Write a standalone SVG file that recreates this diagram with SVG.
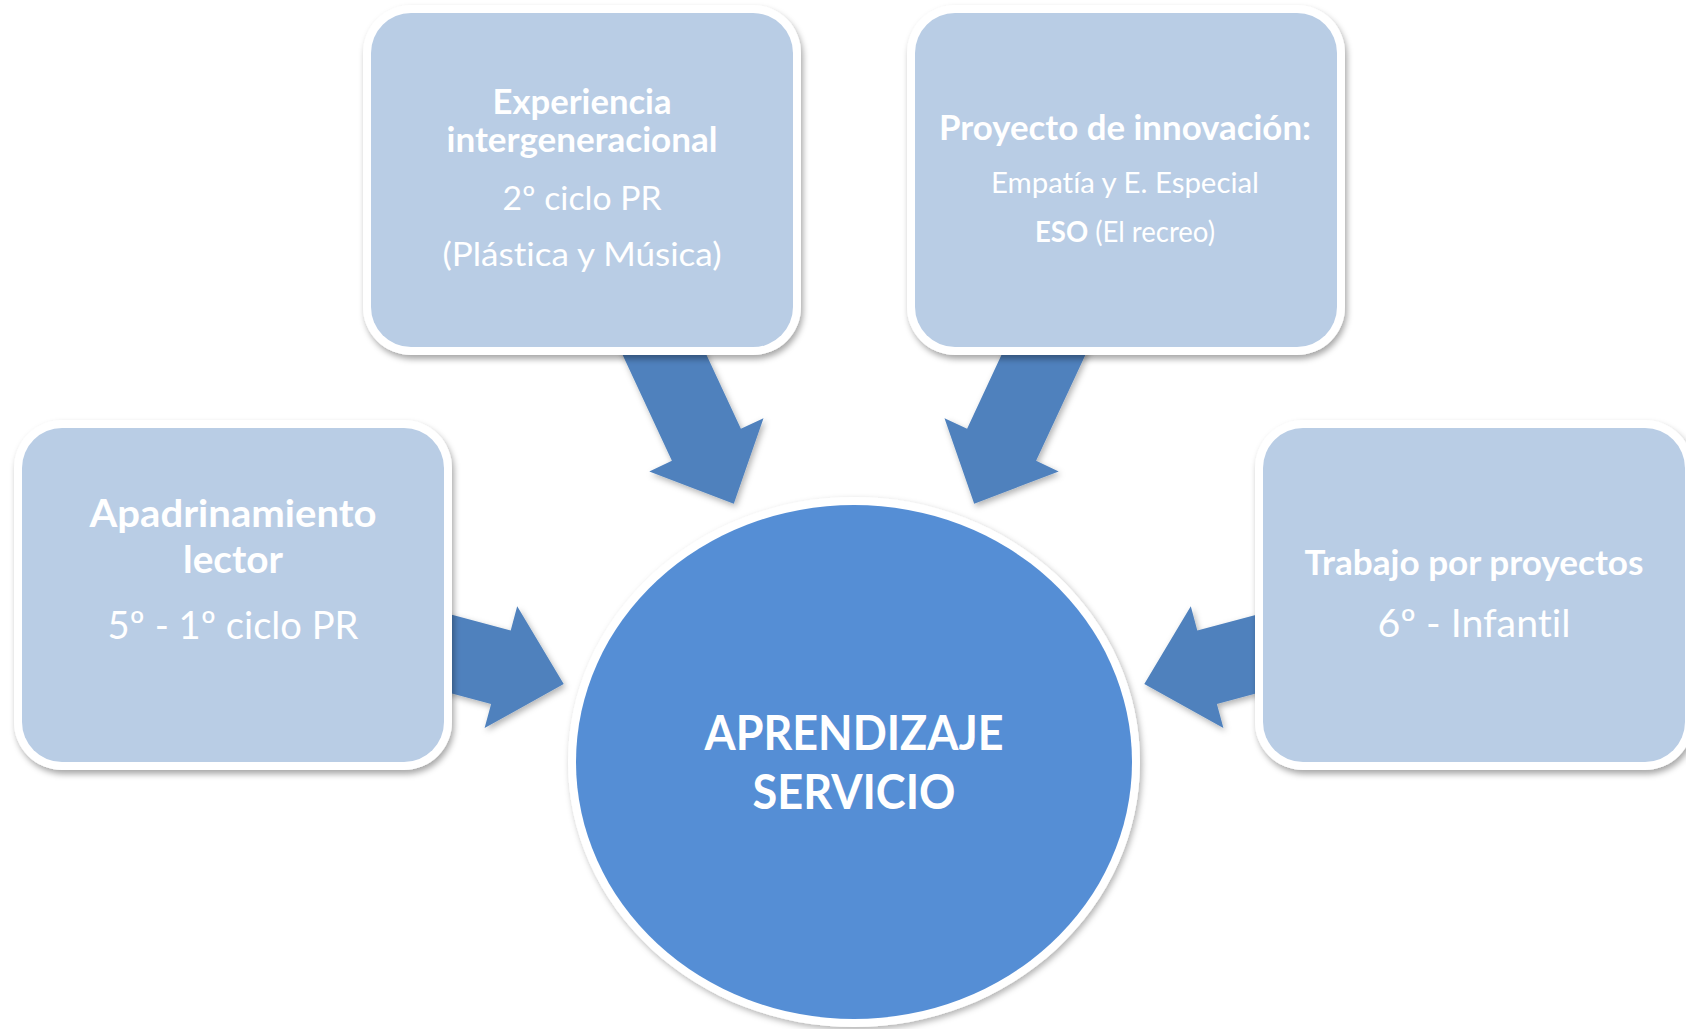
<svg xmlns="http://www.w3.org/2000/svg" width="1686" height="1029" viewBox="0 0 1686 1029">
  <defs>
    <filter id="shadow" x="-10%" y="-10%" width="120%" height="125%">
      <feDropShadow dx="2" dy="4" stdDeviation="3" flood-color="#000000" flood-opacity="0.35"/>
    </filter>
    <filter id="ashadow" x="-10%" y="-10%" width="130%" height="130%">
      <feDropShadow dx="2" dy="3" stdDeviation="3" flood-color="#000000" flood-opacity="0.3"/>
    </filter>
    <style>
      .frame { fill: #ffffff; filter: url(#shadow); }
      .box { fill: #B9CDE5; }
      .arrow { fill: #4F81BD; filter: url(#ashadow); }
      .hub { fill: #558ED5; }
      text { font-family: Lato, "Open Sans", "Liberation Sans", sans-serif; fill: #ffffff; text-anchor: middle; font-variant-ligatures: none; }
      .b { font-weight: bold; }
    </style>
  </defs>
  <rect width="1686" height="1029" fill="#ffffff"/>

  <g id="connectors">
    <polygon class="arrow" points="674.2,285.6 740.9,428.8 763.5,418.2 733.8,503.8 649.3,471.4 671.9,460.8 605.2,317.6"/>
    <polygon class="arrow" points="1033.8,285.6 967.1,428.8 944.5,418.2 974.2,503.8 1058.7,471.4 1036.1,460.8 1102.8,317.6"/>
    <polygon class="arrow" points="403.4,601.8 510.7,630.5 517.2,606.3 563.7,684.0 484.6,728.1 491.1,703.9 383.8,675.2"/>
    <polygon class="arrow" points="1304.6,601.8 1197.3,630.5 1190.8,606.3 1144.3,684.0 1223.4,728.1 1216.9,703.9 1324.2,675.2"/>
  </g>

  <g id="node-experiencia">
    <rect class="frame" x="363" y="5" width="438" height="350" rx="48"/>
    <rect class="box" x="371" y="13" width="422" height="334" rx="40"/>
    <text class="b" x="582" y="114" font-size="33.5" textLength="179" lengthAdjust="spacingAndGlyphs">Experiencia</text>
    <text class="b" x="582" y="152" font-size="33.5" textLength="271" lengthAdjust="spacingAndGlyphs">intergeneracional</text>
    <text x="582" y="210" font-size="33.5" textLength="159" lengthAdjust="spacingAndGlyphs">2º ciclo PR</text>
    <text x="582" y="266" font-size="33.5" textLength="279" lengthAdjust="spacingAndGlyphs">(Plástica y Música)</text>
  </g>

  <g id="node-proyecto">
    <rect class="frame" x="907" y="5" width="438" height="350" rx="48"/>
    <rect class="box" x="915" y="13" width="422" height="334" rx="40"/>
    <text class="b" x="1125" y="140" font-size="33.5" textLength="372" lengthAdjust="spacingAndGlyphs">Proyecto de innovación:</text>
    <text x="1125" y="193" font-size="28.5" textLength="268" lengthAdjust="spacingAndGlyphs">Empatía y E. Especial</text>
    <text x="1125" y="241.5" font-size="28" textLength="180" lengthAdjust="spacingAndGlyphs"><tspan class="b">ESO</tspan> (El recreo)</text>
  </g>

  <g id="node-apadrinamiento">
    <rect class="frame" x="14" y="420" width="438" height="350" rx="48"/>
    <rect class="box" x="22" y="428" width="422" height="334" rx="40"/>
    <text class="b" x="233" y="527" font-size="38" textLength="287" lengthAdjust="spacingAndGlyphs">Apadrinamiento</text>
    <text class="b" x="233" y="573" font-size="38" textLength="100" lengthAdjust="spacingAndGlyphs">lector</text>
    <text x="233" y="639" font-size="38.5" textLength="251" lengthAdjust="spacingAndGlyphs">5º - 1º ciclo PR</text>
  </g>

  <g id="node-trabajo">
    <rect class="frame" x="1255" y="420" width="438" height="350" rx="48"/>
    <rect class="box" x="1263" y="428" width="422" height="334" rx="40"/>
    <text class="b" x="1474" y="575" font-size="33.5" textLength="339" lengthAdjust="spacingAndGlyphs">Trabajo por proyectos</text>
    <text x="1474" y="637" font-size="38.5" textLength="193" lengthAdjust="spacingAndGlyphs">6º - Infantil</text>
  </g>

  <g id="node-aprendizaje">
    <ellipse cx="854" cy="762" rx="286" ry="265" fill="#ffffff" filter="url(#ashadow)"/>
    <ellipse class="hub" cx="854" cy="762" rx="278" ry="257"/>
    <text class="b" x="854" y="749.5" font-size="48" textLength="299" lengthAdjust="spacingAndGlyphs">APRENDIZAJE</text>
    <text class="b" x="854" y="808.5" font-size="48" textLength="203" lengthAdjust="spacingAndGlyphs">SERVICIO</text>
  </g>
</svg>
